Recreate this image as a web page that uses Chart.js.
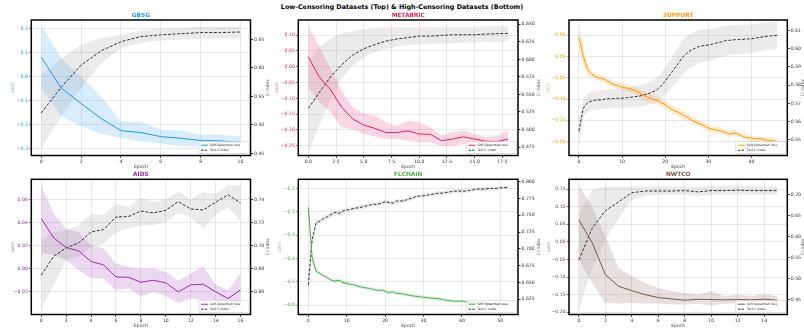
<!DOCTYPE html>
<html>
<head>
<meta charset="utf-8">
<script src="https://cdn.jsdelivr.net/npm/chart.js@4.4.1/dist/chart.umd.min.js"></script>
<style>
  html, body { margin: 0; padding: 0; background: #fff; overflow: hidden; }
  body { width: 804px; height: 331px; position: relative; font-family: "DejaVu Sans", sans-serif; }
  #mainTitle { position: absolute; left: 0; top: 3px; width: 804px; text-align: center;
    font-weight: bold; font-size: 6.4px; line-height: 8px; color: #000; }
  canvas { position: absolute; }
</style>
</head>
<body>
<div id="mainTitle">Low-Censoring Datasets (Top) &amp; High-Censoring Datasets (Bottom)</div>
<script>
// ---- GBSG ----
const gbsgLoss   = [0.082, -0.047, -0.112, -0.174, -0.225, -0.233, -0.250, -0.257, -0.266, -0.268, -0.274];
const gbsgLossHi = [0.217, 0.078, 0.000, -0.082, -0.186, -0.190, -0.221, -0.224, -0.242, -0.243, -0.249];
const gbsgLossLo = [-0.047, -0.165, -0.207, -0.238, -0.256, -0.269, -0.279, -0.290, -0.290, -0.291, -0.297];
const gbsgCidx   = [0.521, 0.566, 0.605, 0.630, 0.646, 0.655, 0.658, 0.660, 0.662, 0.662, 0.663];
const gbsgCidxHi = [0.588, 0.617, 0.641, 0.652, 0.658, 0.665, 0.669, 0.670, 0.672, 0.672, 0.673];
const gbsgCidxLo = [0.458, 0.515, 0.565, 0.608, 0.634, 0.644, 0.648, 0.650, 0.651, 0.652, 0.652];
const gbsgLossTicks = [-0.3, -0.2, -0.1, 0.0, 0.1, 0.2];
const gbsgCidxTicks = [0.45, 0.50, 0.55, 0.60, 0.65];
const gbsgEpochTicks = [0, 2, 4, 6, 8, 10];

// ---- METABRIC ----
const metaLoss   = [0.031, -0.033, -0.072, -0.128, -0.165, -0.185, -0.195, -0.208, -0.208, -0.203, -0.213, -0.214, -0.234, -0.229, -0.222, -0.229, -0.236, -0.237, -0.229];
const metaLossHi = [0.127, 0.063, -0.006, -0.075, -0.128, -0.149, -0.155, -0.176, -0.187, -0.171, -0.176, -0.192, -0.218, -0.207, -0.202, -0.213, -0.223, -0.218, -0.202];
const metaLossLo = [-0.065, -0.112, -0.144, -0.192, -0.197, -0.213, -0.221, -0.229, -0.229, -0.234, -0.240, -0.240, -0.250, -0.250, -0.245, -0.247, -0.249, -0.252, -0.252];
const metaCidx   = [0.530, 0.553, 0.575, 0.592, 0.606, 0.615, 0.621, 0.626, 0.629, 0.631, 0.633, 0.633, 0.634, 0.635, 0.635, 0.635, 0.636, 0.6365, 0.637];
const metaCidxHi = [0.596, 0.618, 0.630, 0.637, 0.640, 0.643, 0.645, 0.646, 0.646, 0.646, 0.646, 0.646, 0.646, 0.646, 0.646, 0.646, 0.647, 0.647, 0.647];
const metaCidxLo = [0.468, 0.506, 0.544, 0.572, 0.591, 0.603, 0.610, 0.615, 0.618, 0.620, 0.621, 0.622, 0.622, 0.623, 0.624, 0.624, 0.625, 0.625, 0.626];
const metaLossTicks = [-0.25, -0.20, -0.15, -0.10, -0.05, 0.00, 0.05, 0.10];
const metaCidxTicks = [0.475, 0.500, 0.525, 0.550, 0.575, 0.600, 0.625, 0.650];
const metaEpochTicks = [0, 2.5, 5, 7.5, 10, 12.5, 15, 17.5];

// ---- SUPPORT ----
const suppLoss   = [0.0445, 0.001, -0.030, -0.042, -0.048, -0.051, -0.054, -0.060, -0.066, -0.069, -0.072, -0.074, -0.076, -0.080, -0.086, -0.092, -0.096, -0.100, -0.103, -0.108, -0.113, -0.121, -0.127, -0.131, -0.137, -0.142, -0.149, -0.154, -0.158, -0.163, -0.168, -0.171, -0.174, -0.176, -0.179, -0.183, -0.180, -0.183, -0.188, -0.191, -0.192, -0.194, -0.193, -0.196, -0.197, -0.198, -0.200];
const suppLossHi = [0.074, 0.025, -0.018, -0.034, -0.040, -0.043, -0.046, -0.052, -0.058, -0.061, -0.064, -0.066, -0.068, -0.071, -0.077, -0.082, -0.086, -0.090, -0.093, -0.098, -0.103, -0.111, -0.117, -0.121, -0.127, -0.132, -0.140, -0.145, -0.150, -0.155, -0.160, -0.163, -0.166, -0.169, -0.172, -0.176, -0.173, -0.176, -0.181, -0.185, -0.186, -0.188, -0.187, -0.190, -0.191, -0.192, -0.194];
const suppLossLo = [0.017, -0.020, -0.040, -0.050, -0.056, -0.059, -0.062, -0.068, -0.074, -0.077, -0.080, -0.082, -0.084, -0.089, -0.095, -0.102, -0.106, -0.110, -0.113, -0.118, -0.123, -0.131, -0.137, -0.141, -0.147, -0.152, -0.158, -0.163, -0.166, -0.171, -0.176, -0.179, -0.182, -0.183, -0.186, -0.190, -0.187, -0.190, -0.195, -0.197, -0.198, -0.200, -0.199, -0.202, -0.203, -0.204, -0.206];
const suppCidx   = [0.5548, 0.5675, 0.5705, 0.5714, 0.5718, 0.5720, 0.5723, 0.5726, 0.5727, 0.5728, 0.5729, 0.5731, 0.5734, 0.5737, 0.5740, 0.5746, 0.5753, 0.5762, 0.5773, 0.5795, 0.5822, 0.5855, 0.5886, 0.5918, 0.5953, 0.5975, 0.5992, 0.6003, 0.6014, 0.6017, 0.6020, 0.6025, 0.6032, 0.6037, 0.6044, 0.6046, 0.6049, 0.6050, 0.6051, 0.6053, 0.6054, 0.6058, 0.6062, 0.6066, 0.6069, 0.6071, 0.6073];
const suppCidxHi = [0.5620, 0.5725, 0.5755, 0.5765, 0.5770, 0.5772, 0.5775, 0.5778, 0.5780, 0.5781, 0.5783, 0.5786, 0.5790, 0.5794, 0.5798, 0.5805, 0.5814, 0.5826, 0.5840, 0.5866, 0.5897, 0.5935, 0.5972, 0.6008, 0.6045, 0.6068, 0.6085, 0.6095, 0.6104, 0.6106, 0.6108, 0.6111, 0.6116, 0.6120, 0.6125, 0.6127, 0.6129, 0.6130, 0.6131, 0.6132, 0.6133, 0.6136, 0.6139, 0.6142, 0.6144, 0.6146, 0.6148];
const suppCidxLo = [0.5466, 0.5625, 0.5655, 0.5663, 0.5666, 0.5668, 0.5671, 0.5674, 0.5674, 0.5675, 0.5675, 0.5676, 0.5678, 0.5680, 0.5682, 0.5687, 0.5692, 0.5698, 0.5706, 0.5724, 0.5747, 0.5775, 0.5800, 0.5828, 0.5861, 0.5882, 0.5899, 0.5911, 0.5924, 0.5928, 0.5932, 0.5939, 0.5948, 0.5954, 0.5963, 0.5965, 0.5969, 0.5970, 0.5971, 0.5974, 0.5975, 0.5980, 0.5985, 0.5990, 0.5994, 0.5996, 0.5998];
const suppLossTicks = [-0.20, -0.15, -0.10, -0.05, 0.00, 0.05];
const suppCidxTicks = [0.55, 0.56, 0.57, 0.58, 0.59, 0.60, 0.61];
const suppEpochTicks = [0, 10, 20, 30, 40];

// ---- AIDS ----
const aidsLoss   = [0.0438, 0.027, 0.0186, 0.0157, 0.0064, 0.0035, -0.007, -0.0073, -0.0116, -0.0099, -0.0122, -0.020, -0.0139, -0.0133, -0.020, -0.0258, -0.0183];
const aidsLossHi = [0.0728, 0.048, 0.035, 0.032, 0.0206, 0.0177, 0.0046, 0.0017, 0.0003, 0.0003, -0.0026, -0.0104, -0.004, 0.0023, -0.0136, -0.0186, -0.004];
const aidsLossLo = [0.0139, 0.0119, 0.0075, -0.0012, -0.0084, -0.0084, -0.0186, -0.0171, -0.0243, -0.020, -0.0238, -0.0296, -0.0258, -0.0272, -0.0272, -0.033, -0.033];
const aidsCidx   = [0.6742, 0.6907, 0.698, 0.7023, 0.7119, 0.7139, 0.7249, 0.7252, 0.7301, 0.7284, 0.7307, 0.7383, 0.7319, 0.731, 0.7377, 0.7443, 0.7371];
const aidsCidxHi = [0.7046, 0.7119, 0.7133, 0.7177, 0.7272, 0.7264, 0.7365, 0.7336, 0.7417, 0.738, 0.740, 0.7475, 0.740, 0.7467, 0.7452, 0.7525, 0.7525];
const aidsCidxLo = [0.6452, 0.6655, 0.6872, 0.6901, 0.6988, 0.7017, 0.7119, 0.7148, 0.7177, 0.7177, 0.7206, 0.7284, 0.7249, 0.7148, 0.7264, 0.7336, 0.7214];
const aidsLossTicks = [-0.02, 0.00, 0.02, 0.04, 0.06];
const aidsCidxTicks = [0.66, 0.68, 0.70, 0.72, 0.74];
const aidsEpochTicks = [0, 2, 4, 6, 8, 10, 12, 14, 16];

// ---- FLCHAIN ----
const flcLoss   = [-0.181, -0.395, -0.454, -0.464, -0.474, -0.483, -0.493, -0.497, -0.493, -0.503, -0.507, -0.511, -0.514, -0.519, -0.523, -0.526, -0.529, -0.533, -0.536, -0.536, -0.540, -0.546, -0.543, -0.550, -0.550, -0.553, -0.557, -0.560, -0.562, -0.564, -0.566, -0.568, -0.570, -0.571, -0.573, -0.576, -0.579, -0.581, -0.583, -0.583, -0.583, -0.585, -0.587, -0.588, -0.590, -0.591, -0.593, -0.593, -0.594, -0.596, -0.597, -0.598, -0.600];
const flcLossHi = [-0.086, -0.372, -0.446, -0.456, -0.466, -0.475, -0.485, -0.489, -0.485, -0.495, -0.499, -0.503, -0.506, -0.511, -0.515, -0.519, -0.522, -0.526, -0.529, -0.529, -0.533, -0.539, -0.536, -0.543, -0.543, -0.546, -0.550, -0.553, -0.555, -0.557, -0.559, -0.561, -0.563, -0.564, -0.566, -0.569, -0.572, -0.574, -0.577, -0.577, -0.577, -0.579, -0.581, -0.582, -0.584, -0.585, -0.587, -0.587, -0.588, -0.590, -0.591, -0.592, -0.594];
const flcLossLo = [-0.243, -0.425, -0.462, -0.472, -0.482, -0.491, -0.501, -0.505, -0.501, -0.511, -0.515, -0.519, -0.522, -0.527, -0.531, -0.533, -0.536, -0.540, -0.543, -0.543, -0.547, -0.553, -0.550, -0.557, -0.557, -0.560, -0.564, -0.567, -0.569, -0.571, -0.573, -0.575, -0.577, -0.578, -0.580, -0.583, -0.586, -0.588, -0.589, -0.589, -0.589, -0.591, -0.593, -0.594, -0.596, -0.597, -0.599, -0.599, -0.600, -0.602, -0.603, -0.604, -0.606];
const flcCidx   = [0.646, 0.713, 0.738, 0.7413, 0.745, 0.7478, 0.7513, 0.7543, 0.7528, 0.7563, 0.7578, 0.7588, 0.7603, 0.7612, 0.7622, 0.7637, 0.7652, 0.7663, 0.7663, 0.7678, 0.7701, 0.769, 0.768, 0.7712, 0.7712, 0.7717, 0.7742, 0.7752, 0.778, 0.7785, 0.779, 0.780, 0.781, 0.782, 0.783, 0.783, 0.784, 0.785, 0.786, 0.786, 0.786, 0.786, 0.787, 0.788, 0.789, 0.789, 0.789, 0.790, 0.790, 0.790, 0.791, 0.791, 0.792];
const flcCidxHi = [0.666, 0.720, 0.742, 0.745, 0.749, 0.752, 0.755, 0.758, 0.757, 0.760, 0.761, 0.762, 0.764, 0.765, 0.766, 0.767, 0.769, 0.770, 0.770, 0.771, 0.773, 0.772, 0.771, 0.774, 0.774, 0.775, 0.777, 0.778, 0.781, 0.781, 0.782, 0.783, 0.784, 0.785, 0.786, 0.786, 0.787, 0.788, 0.789, 0.789, 0.789, 0.789, 0.790, 0.791, 0.792, 0.792, 0.792, 0.793, 0.793, 0.793, 0.794, 0.794, 0.795];
const flcCidxLo = [0.613, 0.706, 0.734, 0.737, 0.741, 0.744, 0.747, 0.750, 0.749, 0.752, 0.754, 0.755, 0.757, 0.758, 0.759, 0.760, 0.762, 0.763, 0.763, 0.765, 0.767, 0.766, 0.765, 0.768, 0.768, 0.769, 0.771, 0.772, 0.775, 0.776, 0.776, 0.777, 0.778, 0.779, 0.780, 0.780, 0.781, 0.782, 0.783, 0.783, 0.783, 0.783, 0.784, 0.785, 0.786, 0.786, 0.786, 0.787, 0.787, 0.787, 0.788, 0.788, 0.789];
const flcLossTicks = [-0.6, -0.5, -0.4, -0.3, -0.2, -0.1];
const flcCidxTicks = [0.625, 0.650, 0.675, 0.700, 0.725, 0.750, 0.775, 0.800];
const flcEpochTicks = [0, 10, 20, 30, 40, 50];

// ---- NWTCO ----
const nwtLoss   = [0.0623, -0.0019, -0.0934, -0.1264, -0.1387, -0.150, -0.1585, -0.1623, -0.166, -0.1632, -0.1641, -0.165, -0.1641, -0.165, -0.163, -0.166];
const nwtLossHi = [0.161, 0.100, 0.015, -0.0745, -0.098, -0.117, -0.131, -0.140, -0.145, -0.150, -0.140, -0.155, -0.150, -0.155, -0.150, -0.155];
const nwtLossLo = [-0.051, -0.117, -0.1736, -0.1755, -0.1736, -0.175, -0.175, -0.178, -0.179, -0.176, -0.181, -0.176, -0.175, -0.175, -0.174, -0.175];
const nwtCidx   = [0.545, 0.620, 0.662, 0.683, 0.705, 0.709, 0.709, 0.709, 0.710, 0.707, 0.710, 0.710, 0.711, 0.710, 0.710, 0.710];
const nwtCidxHi = [0.656, 0.711, 0.720, 0.720, 0.720, 0.720, 0.720, 0.720, 0.720, 0.719, 0.721, 0.721, 0.721, 0.721, 0.720, 0.720];
const nwtCidxLo = [0.426, 0.525, 0.592, 0.644, 0.689, 0.697, 0.700, 0.700, 0.700, 0.697, 0.700, 0.700, 0.701, 0.700, 0.700, 0.700];
const nwtLossTicks = [-0.20, -0.15, -0.10, -0.05, 0.00, 0.05, 0.10, 0.15];
const nwtCidxTicks = [0.45, 0.50, 0.55, 0.60, 0.65, 0.70];
const nwtEpochTicks = [0, 2, 4, 6, 8, 10, 12, 14];

const FONT = '"DejaVu Sans", sans-serif';
const GRID = 'rgba(176,176,176,0.35)';

// panel layout: plot rect [left, top, right, bottom] in page pixels, plus axis ranges
const panels = [
  { name: 'GBSG', color: '#2196F3', band: 'rgba(33,150,243,0.18)', rect: [31.3, 20, 250.5, 155.5],
    loss: gbsgLoss, lossHi: gbsgLossHi, lossLo: gbsgLossLo, cidx: gbsgCidx, cidxHi: gbsgCidxHi, cidxLo: gbsgCidxLo,
    lossTicks: gbsgLossTicks, cidxTicks: gbsgCidxTicks, xTicks: gbsgEpochTicks,
    lossRange: [-0.329, 0.2376], cidxRange: [0.4465, 0.684], xRange: [-0.5, 10.5],
    lossDec: 1, cidxDec: 2, xDec: 0, lossOff: 18, cidxOff: 17.8 },
  { name: 'METABRIC', color: '#E91E63', band: 'rgba(233,30,99,0.18)', rect: [298.3, 20, 518, 155.5],
    loss: metaLoss, lossHi: metaLossHi, lossLo: metaLossLo, cidx: metaCidx, cidxHi: metaCidxHi, cidxLo: metaCidxLo,
    lossTicks: metaLossTicks, cidxTicks: metaCidxTicks, xTicks: metaEpochTicks,
    lossRange: [-0.281, 0.148], cidxRange: [0.463, 0.656], xRange: [-0.9, 18.9],
    lossDec: 2, cidxDec: 3, xDec: 1, lossOff: 21, cidxOff: 21 },
  { name: 'SUPPORT', color: '#FF9800', band: 'rgba(255,152,0,0.18)', rect: [569, 20, 787.3, 155.5],
    loss: suppLoss, lossHi: suppLossHi, lossLo: suppLossLo, cidx: suppCidx, cidxHi: suppCidxHi, cidxLo: suppCidxLo,
    lossTicks: suppLossTicks, cidxTicks: suppCidxTicks, xTicks: suppEpochTicks,
    lossRange: [-0.233, 0.086], cidxRange: [0.5415, 0.6157], xRange: [-2.3, 48.3],
    lossDec: 2, cidxDec: 2, xDec: 0, lossOff: 20.7, cidxOff: 16 },
  { name: 'AIDS', color: '#9C27B0', band: 'rgba(156,39,176,0.18)', rect: [31.3, 179.3, 250.5, 314.5],
    loss: aidsLoss, lossHi: aidsLossHi, lossLo: aidsLossLo, cidx: aidsCidx, cidxHi: aidsCidxHi, cidxLo: aidsCidxLo,
    lossTicks: aidsLossTicks, cidxTicks: aidsCidxTicks, xTicks: aidsEpochTicks,
    lossRange: [-0.0397, 0.078], cidxRange: [0.64, 0.7577], xRange: [-0.8, 16.8],
    lossDec: 2, cidxDec: 2, xDec: 0, lossOff: 18, cidxOff: 17.8 },
  { name: 'FLCHAIN', color: '#4CAF50', band: 'rgba(76,175,80,0.18)', rect: [298.3, 179.3, 518, 314.5],
    loss: flcLoss, lossHi: flcLossHi, lossLo: flcLossLo, cidx: flcCidx, cidxHi: flcCidxHi, cidxLo: flcCidxLo,
    lossTicks: flcLossTicks, cidxTicks: flcCidxTicks, xTicks: flcEpochTicks,
    lossRange: [-0.64, -0.0614], cidxRange: [0.602, 0.8036], xRange: [-2.6, 54.6],
    lossDec: 1, cidxDec: 3, xDec: 0, lossOff: 18.3, cidxOff: 21 },
  { name: 'NWTCO', color: '#795548', band: 'rgba(121,85,72,0.18)', rect: [569, 179.3, 787.3, 314.5],
    loss: nwtLoss, lossHi: nwtLossHi, lossLo: nwtLossLo, cidx: nwtCidx, cidxHi: nwtCidxHi, cidxLo: nwtCidxLo,
    lossTicks: nwtLossTicks, cidxTicks: nwtCidxTicks, xTicks: nwtEpochTicks,
    lossRange: [-0.2066, 0.178], cidxRange: [0.4144, 0.737], xRange: [-0.75, 15.75],
    lossDec: 2, cidxDec: 2, xDec: 0, lossOff: 20, cidxOff: 16 }
];

const fmt = (v, d) => v.toFixed(d).replace('-', '\u2212');
const pts = arr => arr.map((v, i) => ({ x: i, y: v }));

// titles, frame, axis labels and the small legend box
const decor = {
  id: 'decor',
  afterDraw(chart, args, o) {
    const { ctx, chartArea: a } = chart;
    const midX = (a.left + a.right) / 2, midY = (a.top + a.bottom) / 2;
    ctx.save();
    ctx.strokeStyle = '#000';
    ctx.lineWidth = 1.5;
    ctx.strokeRect(a.left, a.top, a.right - a.left, a.bottom - a.top);

    ctx.textAlign = 'center';
    ctx.textBaseline = 'middle';
    ctx.fillStyle = o.color;
    ctx.font = 'bold 5.8px ' + FONT;
    ctx.fillText(o.name, midX, a.top - 4.8);

    ctx.font = '4.5px ' + FONT;
    ctx.fillStyle = '#333';
    ctx.fillText('Epoch', midX, a.bottom + 11.2);

    ctx.save();
    ctx.translate(a.left - o.lossOff, midY);
    ctx.rotate(-Math.PI / 2);
    ctx.globalAlpha = 0.7;
    ctx.fillStyle = o.color;
    ctx.fillText('Loss', 0, 0);
    ctx.restore();

    ctx.save();
    ctx.translate(a.right + o.cidxOff, midY);
    ctx.rotate(-Math.PI / 2);
    ctx.fillStyle = '#666';
    ctx.fillText('C-index', 0, 0);
    ctx.restore();

    // legend
    const w = 50, h = 12;
    const x0 = a.right - 1.5 - w, y0 = a.bottom - 1.8 - h;
    ctx.fillStyle = 'rgba(255,255,255,0.8)';
    ctx.strokeStyle = '#cccccc';
    ctx.lineWidth = 0.5;
    ctx.fillRect(x0, y0, w, h);
    ctx.strokeRect(x0, y0, w, h);
    ctx.lineWidth = 1;
    ctx.strokeStyle = o.color;
    ctx.beginPath(); ctx.moveTo(x0 + 2, y0 + 3.5); ctx.lineTo(x0 + 9, y0 + 3.5); ctx.stroke();
    ctx.strokeStyle = '#333';
    ctx.setLineDash([2.5, 1.2]);
    ctx.beginPath(); ctx.moveTo(x0 + 2, y0 + 8.5); ctx.lineTo(x0 + 9, y0 + 8.5); ctx.stroke();
    ctx.setLineDash([]);
    ctx.fillStyle = '#333';
    ctx.textAlign = 'left';
    ctx.font = '3.1px ' + FONT;
    ctx.fillText('Soft-Spearman loss', x0 + 11, y0 + 3.6);
    ctx.fillText('Test C-index', x0 + 11, y0 + 8.6);
    ctx.restore();
  }
};

function makePanel(p) {
  const [L, T, R, B] = p.rect;
  const AX = 40, TOP = 22, BOT = 20;
  const cl = Math.floor(L) - AX, ct = Math.floor(T) - TOP;
  const cw = Math.ceil(R) + AX - cl, ch = Math.ceil(B) + BOT - ct;
  const canvas = document.createElement('canvas');
  canvas.width = cw; canvas.height = ch;
  canvas.style.left = cl + 'px'; canvas.style.top = ct + 'px';
  canvas.style.width = cw + 'px'; canvas.style.height = ch + 'px';
  document.body.appendChild(canvas);

  const tickFont = { family: FONT, size: 4.6 };
  const flat = { pointRadius: 0, borderWidth: 0, tension: 0 };

  new Chart(canvas.getContext('2d'), {
    type: 'line',
    data: {
      datasets: [
        { data: pts(p.loss), yAxisID: 'yL', borderColor: p.color, borderWidth: 1, pointRadius: 0, fill: false, order: 0 },
        { data: pts(p.cidx), yAxisID: 'yR', borderColor: '#333', borderWidth: 1, borderDash: [3, 1.6], pointRadius: 0, fill: false, order: 1 },
        { ...flat, data: pts(p.lossLo), yAxisID: 'yL', fill: false, order: 5 },
        { ...flat, data: pts(p.lossHi), yAxisID: 'yL', fill: '-1', backgroundColor: p.band, order: 4 },
        { ...flat, data: pts(p.cidxLo), yAxisID: 'yR', fill: false, order: 3 },
        { ...flat, data: pts(p.cidxHi), yAxisID: 'yR', fill: '-1', backgroundColor: 'rgba(128,128,128,0.16)', order: 2 }
      ]
    },
    options: {
      responsive: false,
      animation: false,
      layout: { padding: { left: L - Math.floor(L), right: Math.ceil(R) - R, top: T - ct, bottom: Math.ceil(B) - B } },
      plugins: { legend: { display: false }, tooltip: { enabled: false }, decor: p },
      scales: {
        x: {
          type: 'linear', min: p.xRange[0], max: p.xRange[1],
          afterBuildTicks: s => { s.ticks = p.xTicks.map(v => ({ value: v })); },
          afterFit: s => { s.height = BOT; },
          ticks: { font: tickFont, color: '#333', padding: 0.8, maxRotation: 0, autoSkip: false, callback: v => fmt(v, p.xDec) },
          grid: { color: GRID, lineWidth: 0.8, tickColor: '#333', tickLength: 2.5 },
          border: { display: false }
        },
        yL: {
          position: 'left', min: p.lossRange[0], max: p.lossRange[1],
          afterBuildTicks: s => { s.ticks = p.lossTicks.map(v => ({ value: v })); },
          afterFit: s => { s.width = AX; },
          ticks: { font: tickFont, color: p.color, padding: 1, autoSkip: false, callback: v => fmt(v, p.lossDec) },
          grid: { color: GRID, lineWidth: 0.8, tickColor: p.color, tickLength: 2.5 },
          border: { display: false }
        },
        yR: {
          position: 'right', min: p.cidxRange[0], max: p.cidxRange[1],
          afterBuildTicks: s => { s.ticks = p.cidxTicks.map(v => ({ value: v })); },
          afterFit: s => { s.width = AX; },
          ticks: { font: tickFont, color: '#333', padding: 1, autoSkip: false, callback: v => fmt(v, p.cidxDec) },
          grid: { drawOnChartArea: false, tickColor: '#333', tickLength: 2.5 },
          border: { display: false }
        }
      }
    },
    plugins: [decor]
  });
}

panels.forEach(makePanel);
</script>
</body>
</html>
